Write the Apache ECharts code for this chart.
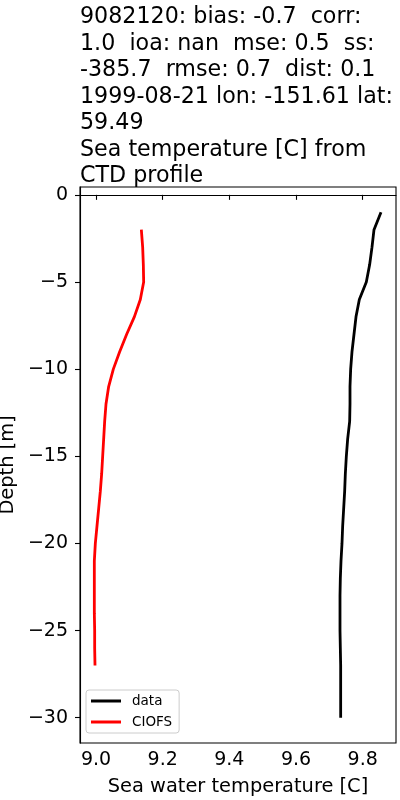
<!DOCTYPE html>
<html>
<head>
<meta charset="utf-8">
<script src="https://cdn.jsdelivr.net/npm/echarts@6/dist/echarts.min.js"></script>
<style>
html,body{margin:0;padding:0;background:#fff;}
#chart{width:400px;height:800px;}
</style>
</head>
<body>
<div id="chart"></div>
<script>
const titleLines = [
  "9082120: bias: -0.7  corr:",
  "1.0  ioa: nan  mse: 0.5  ss:",
  "-385.7  rmse: 0.7  dist: 0.1",
  "1999-08-21 lon: -151.61 lat:",
  "59.49",
  "Sea temperature [C] from",
  "CTD profile"
];
const dataDepth = [-1,-2,-3,-4,-5,-6,-7,-8,-9,-10,-11,-12,-13,-14,-15,-16,-17,-18,-19,-20,-21,-22,-23,-24,-25,-26,-27,-28,-29,-30];
const dataTemp = [9.855,9.834,9.828,9.821,9.811,9.790,9.780,9.774,9.768,9.764,9.762,9.762,9.761,9.755,9.751,9.748,9.746,9.743,9.740,9.738,9.735,9.733,9.732,9.732,9.732,9.733,9.734,9.734,9.734,9.734];
const modelDepth = [-2,-3,-4,-5,-6,-7,-8,-9,-10,-11,-12,-13,-14,-15,-16,-17,-18,-19,-20,-21,-22,-23,-24,-25,-26,-27];
const modelTemp = [9.136,9.140,9.142,9.143,9.133,9.115,9.092,9.071,9.052,9.038,9.030,9.026,9.023,9.020,9.017,9.013,9.008,9.003,8.998,8.995,8.995,8.995,8.995,8.996,8.996,8.997];
const xTicks = [9.0, 9.2, 9.4, 9.6, 9.8];
const yTicks = [-30, -25, -20, -15, -10, -5, 0];
const seriesNames = ["data", "CIOFS"];

const FONT = "DejaVu Sans";
const chart = echarts.init(document.getElementById('chart'), null, {renderer: 'canvas'});
const pairs = (xs, ys) => xs.map((x, i) => [x, ys[i]]);

chart.setOption({
  animation: false,
  backgroundColor: '#fff',
  textStyle: {fontFamily: FONT},
  title: {
    text: titleLines.join('\n'),
    left: 80, top: 4, padding: 0,
    textStyle: {fontFamily: FONT, fontSize: 22.2, fontWeight: 'normal', color: '#000', lineHeight: 26.5}
  },
  grid: {left: 80, right: 4, top: 187, bottom: 57, containLabel: false, outerBoundsMode: 'none', show: true, borderColor: '#000', borderWidth: 1.1, backgroundColor: 'transparent'},
  legend: {
    data: seriesNames,
    orient: 'vertical',
    left: 86, top: 690,
    icon: 'rect', itemWidth: 30, itemHeight: 3, itemGap: 5,
    padding: [3, 7, 3, 5],
    backgroundColor: '#fff',
    borderColor: '#cccccc', borderWidth: 1, borderRadius: 3,
    selectedMode: false,
    textStyle: {fontFamily: FONT, fontSize: 13.5, color: '#000', lineHeight: 16, padding: [0, 0, 0, 6]}
  },
  xAxis: {
    type: 'value', min: 8.952, max: 9.9,
    name: 'Sea water temperature [C]', nameLocation: 'middle', nameGap: 34,
    nameTextStyle: {fontFamily: FONT, fontSize: 19.4, color: '#000'},
    axisLine: {show: true, lineStyle: {color: '#000', width: 1.1}},
    axisTick: {show: true, length: 5, inside: false, customValues: xTicks, lineStyle: {color: '#000', width: 1.1}},
    axisLabel: {customValues: xTicks, margin: 8, fontFamily: FONT, fontSize: 19, color: '#000', formatter: v => v.toFixed(1)},
    splitLine: {show: false}
  },
  yAxis: {
    type: 'value', min: -31.45, max: 0.45,
    name: 'Depth [m]', nameLocation: 'middle', nameGap: 55,
    nameTextStyle: {fontFamily: FONT, fontSize: 19.4, color: '#000'},
    axisLine: {show: true, lineStyle: {color: '#000', width: 1.1}},
    axisTick: {show: true, length: 5, inside: false, customValues: yTicks, lineStyle: {color: '#000', width: 1.1}},
    axisLabel: {customValues: yTicks, margin: 12, fontFamily: FONT, fontSize: 19, color: '#000', formatter: v => String(v).replace('-', '\u2212')},
    splitLine: {show: false}
  },
  series: [
    {name: seriesNames[0], type: 'line', data: pairs(dataTemp, dataDepth), symbol: 'none', lineStyle: {color: '#000', width: 2.8}, itemStyle: {color: '#000'}, z: 3},
    {name: seriesNames[1], type: 'line', data: pairs(modelTemp, modelDepth), symbol: 'none', lineStyle: {color: '#ff0000', width: 2.8}, itemStyle: {color: '#ff0000'}, z: 3}
  ]
});
</script>
</body>
</html>
